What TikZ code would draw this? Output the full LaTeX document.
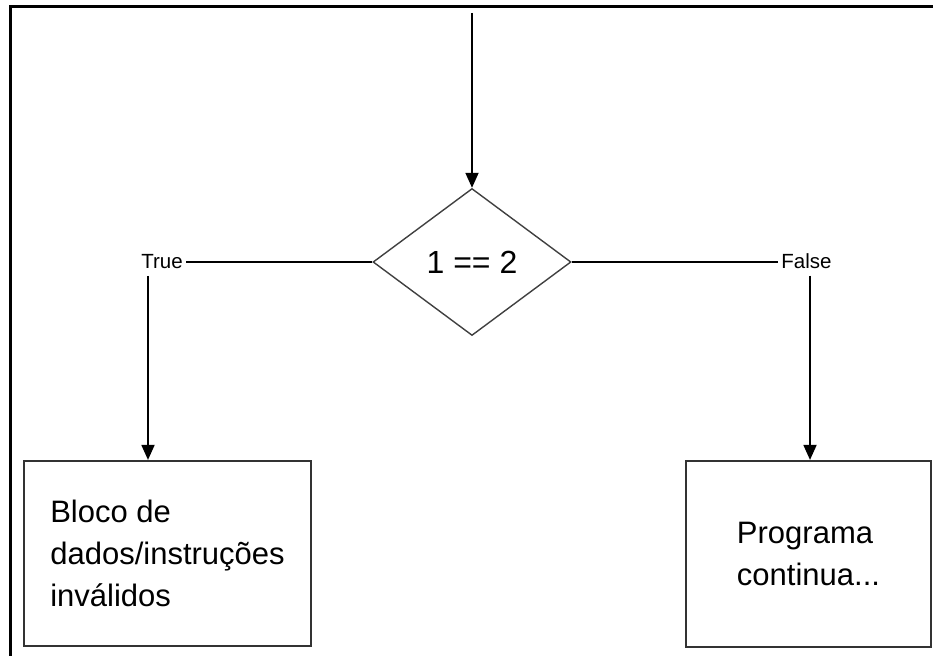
\documentclass[tikz,border=0pt]{standalone}
\usepackage{fontspec}
\setmainfont{Liberation Sans}
\usetikzlibrary{shapes.geometric,arrows.meta}

\begin{document}
\begin{tikzpicture}[x=1pt,y=-1pt,
  conn/.style={line width=1.8pt, black},
  arr/.style={conn, -{Triangle[length=15pt,width=13pt]}},
  blockbox/.style={rectangle, draw=black!80, line width=2.2pt, inner sep=0pt,
    align=left, font=\fontsize{31}{42}\selectfont},
  decision/.style={diamond, draw=black!75, line width=1.4pt,
    minimum width=198pt, minimum height=147pt, inner sep=0pt,
    font=\fontsize{32}{38}\selectfont},
  branch/.style={inner sep=3pt, font=\fontsize{20.5}{24}\selectfont}]

\useasboundingbox (0,0) rectangle (933,655);

% outer frame (top and left edges)
\draw[line width=3pt, line cap=rect] (10.5,660) -- (10.5,7) -- (940,7);

% decision and blocks
\node[decision] (cond) at (472,262) {1 == 2};
\node[blockbox, minimum width=287pt, minimum height=185pt] (lbox) at (167.5,553.5)
  {Bloco de\\dados/instruções\\inválidos};
\node[blockbox, minimum width=245pt, minimum height=186pt] (rbox) at (808.5,554)
  {Programa\\continua...};

% branch labels
\node[branch] (yes) at (162,261.5) {True};
\node[branch] (no) at (806.5,261) {False};

% connectors
\coordinate (entry) at (472,13);
\coordinate (ydrop) at ([xshift=-14pt,yshift=-4pt]yes.south);
\coordinate (ndrop) at ([xshift=3.5pt,yshift=-4pt]no.south);

\draw[arr] (entry) -- (cond.north);
\draw[conn] (cond.west) -- (cond.west -| yes.east);
\draw[conn] (cond.east) -- (cond.east -| no.west);
\draw[arr] (ydrop) -- (ydrop |- lbox.north);
\draw[arr] (ndrop) -- (ndrop |- rbox.north);
\end{tikzpicture}
\end{document}
